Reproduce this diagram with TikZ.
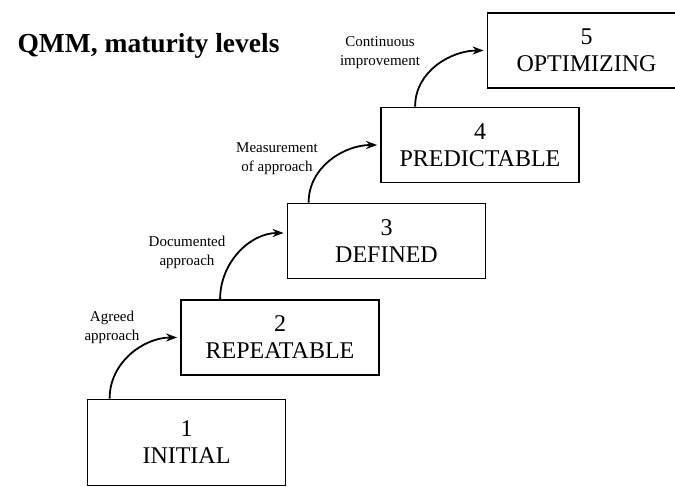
\documentclass[tikz,border=0pt]{standalone}
\usepackage{fontspec}
\setmainfont{Liberation Serif}
\usetikzlibrary{arrows.meta}
\begin{document}
\begin{tikzpicture}[x=1pt,y=-1pt,
    level/.style={draw,line width=1.8pt,minimum width=198pt,minimum height=75pt,
                  inner sep=0pt,align=center,font=\fontsize{24}{27}\selectfont},
    note/.style={align=center,font=\fontsize{15}{19}\selectfont},
    up/.style={line width=1.8pt,-{Stealth[length=11pt,width=8pt]},shorten >=3pt}]
  \useasboundingbox (0,0) rectangle (675,487);
  \clip (0,0) rectangle (675,487);
  \node[anchor=base west,font=\fontsize{27.5}{30}\selectfont\bfseries] (title) at (14,53) {QMM, maturity levels};
  % the five levels
  \node[level,minimum height=86pt] (initial) at (186.5,442.5) {1\\INITIAL};
  \node[level] (repeatable) at (280,337.5) {2\\REPEATABLE};
  \node[level] (defined) at (386.5,241) {3\\DEFINED};
  \node[level] (predictable) at (480,145) {4\\PREDICTABLE};
  \node[level] (optimizing) at (586.5,50.5) {5\\OPTIMIZING};
  % steps between them
  \node[note] (agreed) at (112,327) {Agreed\\approach};
  \node[note] (documented) at (187,252) {Documented\\approach};
  \node[note] (measurement) at (277,158.5) {Measurement\\of approach};
  \node[note] (continuous) at (380,52.5) {Continuous\\improvement};
  \draw[up] ([xshift=23pt]initial.north west) to[out=90,in=180] (repeatable.west);
  \draw[up] ([xshift=40pt]repeatable.north west) to[out=90,in=180] ([yshift=8pt]defined.west);
  \draw[up] ([xshift=22pt]defined.north west) to[out=90,in=180] (predictable.west);
  \draw[up] ([xshift=35pt]predictable.north west) to[out=90,in=180] (optimizing.west);
\end{tikzpicture}
\end{document}
